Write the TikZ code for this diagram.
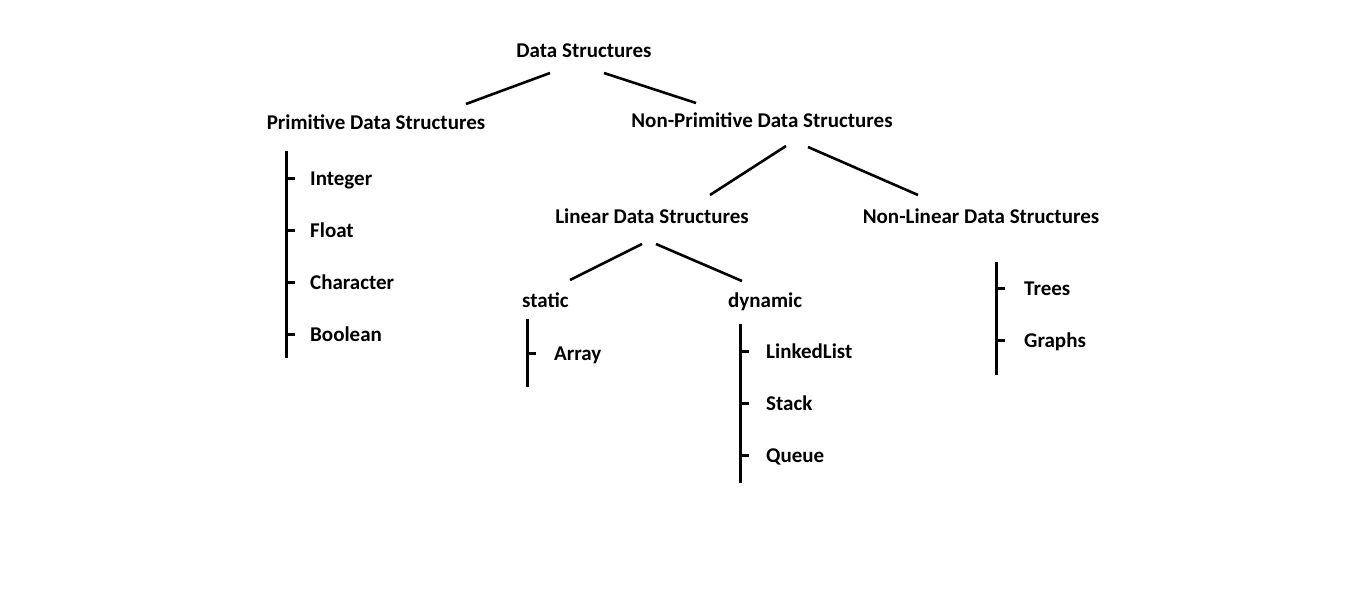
\documentclass[tikz,border=0pt]{standalone}
\usepackage{fontspec}
\setmainfont{Carlito}
\begin{document}
\begin{tikzpicture}[x=1pt,y=-1pt,
  lbl/.style={font=\bfseries\fontsize{21}{25}\selectfont, inner sep=0pt},
  conn/.style={line width=2.6pt},
  bar/.style={line width=3pt},
  tick/.style={line width=3pt}]
\useasboundingbox (0,0) rectangle (1360,613);
% nodes
\node[lbl,anchor=base] (ds) at (584,57) {Data Structures};
\node[lbl,anchor=base] (prim) at (376,129) {Primitive Data Structures};
\node[lbl,anchor=base] (np) at (762,127) {Non-Primitive Data Structures};
\node[lbl,anchor=base] (lin) at (652,223) {Linear Data Structures};
\node[lbl,anchor=base] (nl) at (981,223) {Non-Linear Data Structures};
\node[lbl,anchor=base west] (st) at (522,307) {static};
\node[lbl,anchor=base west] (dyn) at (728,307) {dynamic};
\node[lbl,anchor=base west] (int) at (310,185) {Integer};
\node[lbl,anchor=base west] (flt) at (310,237) {Float};
\node[lbl,anchor=base west] (chr) at (310,289) {Character};
\node[lbl,anchor=base west] (bool) at (310,341) {Boolean};
\node[lbl,anchor=base west] (arr) at (554,360) {Array};
\node[lbl,anchor=base west] (ll) at (766,358) {LinkedList};
\node[lbl,anchor=base west] (stk) at (766,410) {Stack};
\node[lbl,anchor=base west] (que) at (766,462) {Queue};
\node[lbl,anchor=base west] (tr) at (1024,295) {Trees};
\node[lbl,anchor=base west] (gr) at (1024,347) {Graphs};
% tree connectors
\draw[conn] ([xshift=-34pt,yshift=-16pt]ds.base) -- ([xshift=90pt,yshift=25pt]prim.base);
\draw[conn] ([xshift=20pt,yshift=-16pt]ds.base) -- ([xshift=-66pt,yshift=24pt]np.base);
\draw[conn] ([xshift=24pt,yshift=-19pt]np.base) -- ([xshift=58pt,yshift=28pt]lin.base);
\draw[conn] ([xshift=46pt,yshift=-20pt]np.base) -- ([xshift=-63pt,yshift=28pt]nl.base);
\draw[conn] ([xshift=-10pt,yshift=-21pt]lin.base) -- ([xshift=48pt,yshift=27pt]st.base west);
\draw[conn] ([xshift=4pt,yshift=-21pt]lin.base) -- ([xshift=14pt,yshift=26pt]dyn.base west);
% bars
\coordinate (pt) at (286,151); \coordinate (pb) at (286,358);
\coordinate (stt) at (527,319); \coordinate (stb) at (527,387);
\coordinate (dyt) at (740,324); \coordinate (dyb) at (740,483);
\coordinate (nlt) at (996,262); \coordinate (nlb) at (996,375);
\draw[bar] (pt) -- (pb);
\draw[bar] (stt) -- (stb);
\draw[bar] (dyt) -- (dyb);
\draw[bar] (nlt) -- (nlb);
% ticks
\foreach \n in {int,flt,chr,bool}{\draw[tick] ([xshift=-24pt,yshift=7pt]\n.base west) -- ++(9,0);}
\draw[tick] ([xshift=-27pt,yshift=7pt]arr.base west) -- ++(9,0);
\foreach \n in {ll,stk,que}{\draw[tick] ([xshift=-26pt,yshift=7pt]\n.base west) -- ++(9,0);}
\foreach \n in {tr,gr}{\draw[tick] ([xshift=-28pt,yshift=7pt]\n.base west) -- ++(9,0);}
\end{tikzpicture}
\end{document}
